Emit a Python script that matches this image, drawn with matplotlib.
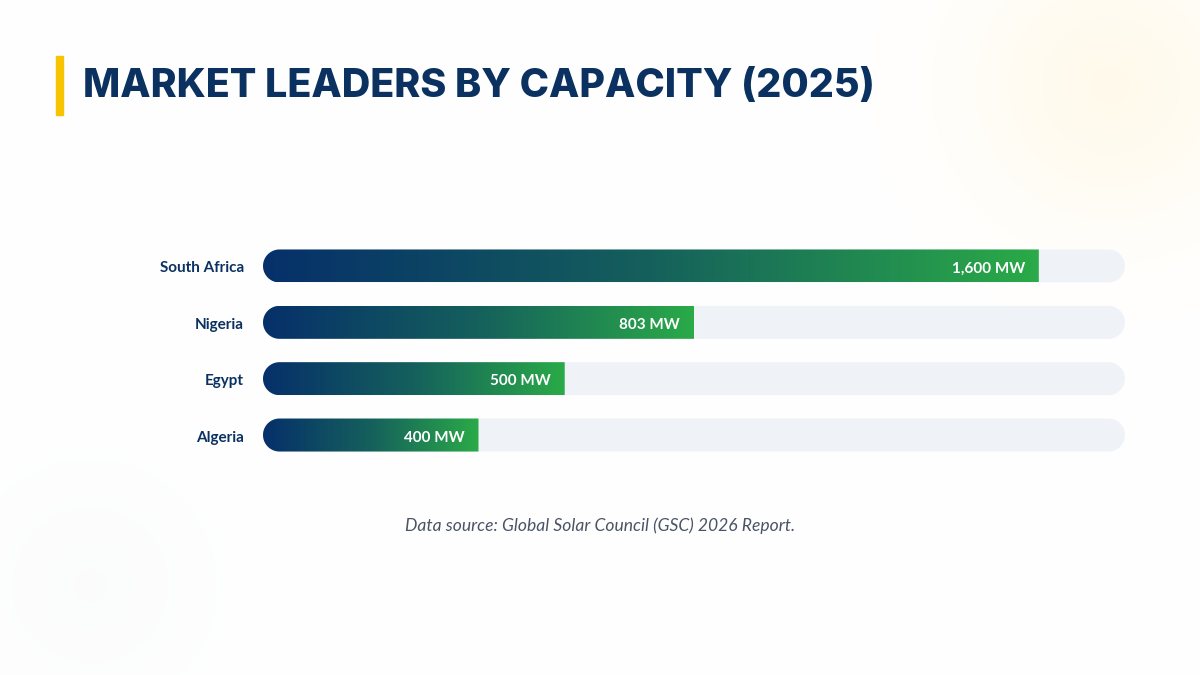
import numpy as np
import matplotlib
matplotlib.use("Agg")
import matplotlib.pyplot as plt
from matplotlib.path import Path
from matplotlib.patches import PathPatch, Rectangle
from matplotlib.colors import LinearSegmentedColormap

# ---------------- data ----------------
countries = ["South Africa", "Nigeria", "Egypt", "Algeria"]
capacity_labels = ["1,600 MW", "803 MW", "500 MW", "400 MW"]
bar_share = [90, 50, 35, 25]          # bar length, % of track
title = "MARKET LEADERS BY CAPACITY (2025)"
source = "Data source: Global Solar Council (GSC) 2026 Report."

NAVY = "#0b3161"
W, H = 1200, 675
fig = plt.figure(figsize=(12, 6.75), dpi=100)

# ---------------- background glows ----------------
bg = fig.add_axes([0, 0, 1, 1])
bg.set_xlim(0, W); bg.set_ylim(H, 0); bg.axis("off")
yy, xx = np.mgrid[0:H, 0:W]
img = np.ones((H, W, 3))
d1 = np.sqrt((xx - 1110) ** 2 + (yy - 85) ** 2)
a1 = np.exp(-(d1 / 140) ** 2) * 0.10
d2 = np.sqrt((xx - 90) ** 2 + (yy - 585) ** 2)
a2 = np.exp(-(d2 / 120) ** 2) * 0.03
yellow = np.array([1.0, 0.80, 0.25])
grey = np.array([0.55, 0.6, 0.68])
for a, c in ((a1, yellow), (a2, grey)):
    img = img * (1 - a[..., None]) + c * a[..., None]
bg.imshow(img, extent=[0, W, H, 0], zorder=0)

# accent bar + title
bg.add_patch(Rectangle((56, 56), 7, 59, color="#f8c300", zorder=2))
bg.text(83, 87, title, fontsize=28.4, fontweight="heavy", family="Inter",
        color=NAVY, va="center", ha="left", zorder=3)
bg.text(600, 526, source, fontsize=12.6, style="italic", family="Lato",
        color="#4a5466", va="center", ha="center", zorder=3)

# ---------------- bar axes ----------------
ax_left, ax_right = 263, 1125
ax_top, ax_bot = 237.8, 463.2
ax = fig.add_axes([ax_left / W, 1 - ax_bot / H, (ax_right - ax_left) / W,
                   (ax_bot - ax_top) / H])
ax.set_xlim(0, 100)
ax.set_ylim(len(countries) - 0.5, -0.5)
ax.axis("off")

px_x = (ax_right - ax_left) / 100.0
px_y = (ax_bot - ax_top) / len(countries)
bar_h_px = 33
bh = bar_h_px / px_y
rx = (bar_h_px / 2) / px_x
ry = bh / 2

def pill(x0, x1, yc, round_right):
    verts, codes = [], []
    th = np.linspace(np.pi / 2, 3 * np.pi / 2, 40)
    for i, t in enumerate(th):
        verts.append((x0 + rx + rx * np.cos(t), yc - ry * np.sin(t)))
        codes.append(Path.MOVETO if i == 0 else Path.LINETO)
    if round_right:
        th2 = np.linspace(-np.pi / 2, np.pi / 2, 40)
        for t in th2:
            verts.append((x1 - rx + rx * np.cos(t), yc - ry * np.sin(t)))
            codes.append(Path.LINETO)
    else:
        verts.append((x1, yc + ry)); codes.append(Path.LINETO)
        verts.append((x1, yc - ry)); codes.append(Path.LINETO)
    verts.append(verts[0]); codes.append(Path.CLOSEPOLY)
    return Path(verts, codes)

cmap = LinearSegmentedColormap.from_list("g", ["#06306a", "#15605c", "#2aaa48"])
grad = np.linspace(0, 1, 256)[None, :]
dy = 2.5 / px_y   # small downward nudge for text baseline

for i, (name, lab, share) in enumerate(zip(countries, capacity_labels, bar_share)):
    track = PathPatch(pill(0, 100, i, True), facecolor="#eff3f8",
                      edgecolor="none", zorder=1)
    ax.add_patch(track)
    bar = PathPatch(pill(0, share, i, False), facecolor="none",
                    edgecolor="none", zorder=2)
    ax.add_patch(bar)
    im = ax.imshow(grad, cmap=cmap, aspect="auto",
                   extent=[0, share, i + ry, i - ry], zorder=2,
                   interpolation="bilinear")
    im.set_clip_path(bar)
    ax.text(share - 14 / px_x, i + dy, lab, color="white", fontsize=11,
            fontweight="bold", family="Lato", ha="right", va="center", zorder=3)
    ax.text(-19 / px_x, i + dy, name, color=NAVY, fontsize=11, fontweight="bold",
            family="Lato", ha="right", va="center", zorder=3, clip_on=False)

ax.set_xlim(0, 100)
ax.set_ylim(len(countries) - 0.5, -0.5)
fig.savefig("out.png", dpi=100)
